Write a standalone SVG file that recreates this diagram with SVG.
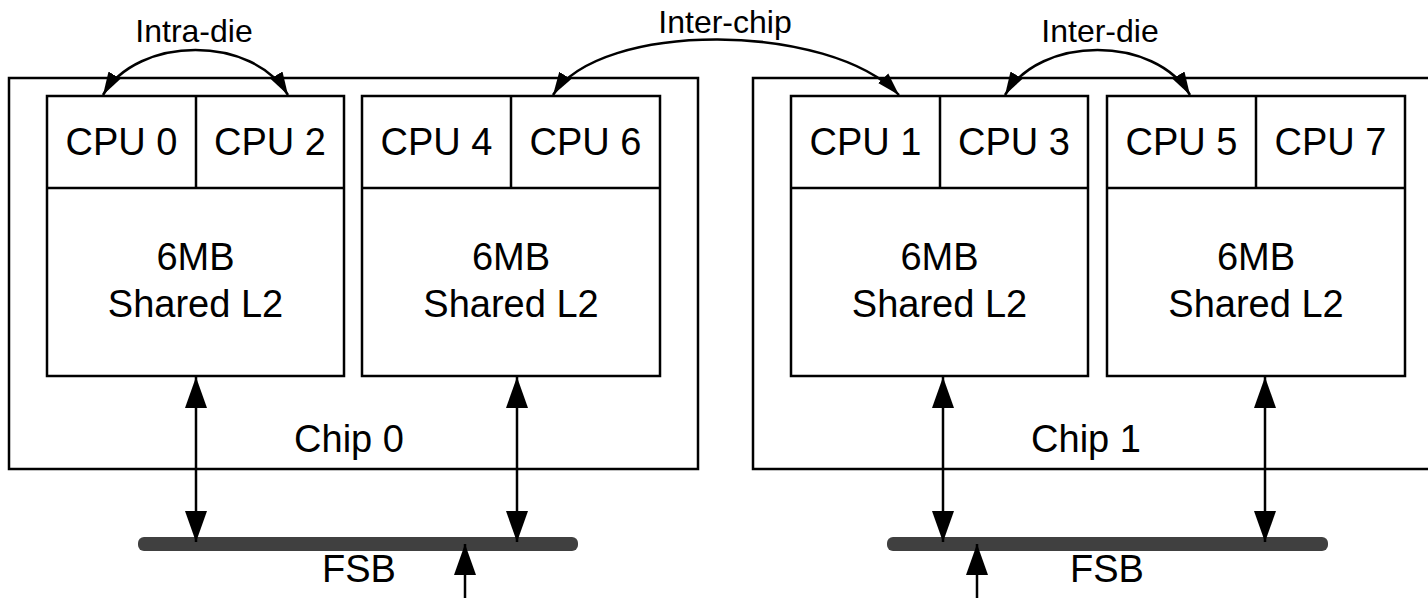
<svg xmlns="http://www.w3.org/2000/svg" width="1428" height="598" viewBox="0 0 1428 598">
<style>
.box{fill:#fff;stroke:#000;stroke-width:2.5}
.chip{fill:#fff;stroke:#000;stroke-width:2.5}
.t{font-family:"Liberation Sans",Arial,sans-serif;fill:#000;text-anchor:middle}
.cpu{font-size:38px}
.l2{font-size:38px}
.lbl{font-size:32px}
.ln{fill:none;stroke:#000;stroke-width:2.5}
.bus{fill:#404040}
</style>
<defs>
<marker id="big" markerUnits="userSpaceOnUse" markerWidth="32" markerHeight="24" refX="31" refY="11" orient="auto-start-reverse" viewBox="0 0 32 22">
<path d="M0,0 L31,11 L0,22 z" fill="#000"/>
</marker>
<marker id="small" markerUnits="userSpaceOnUse" markerWidth="24" markerHeight="16" refX="23" refY="7" orient="auto-start-reverse" viewBox="0 0 24 14">
<path d="M0,0 L23,7 L0,14 z" fill="#000"/>
</marker>
</defs>

<g id="chip0">
<rect class="chip" x="9" y="78" width="689" height="391"/>
<text class="t l2" x="349" y="452">Chip 0</text>
</g>
<g id="chip1">
<rect class="chip" x="753" y="78" width="700" height="391"/>
<text class="t l2" x="1086" y="452">Chip 1</text>
</g>

<g id="die0">
<rect class="box" x="47" y="96" width="297" height="280"/>
<line class="ln" x1="47" y1="188" x2="344" y2="188"/>
<line class="ln" x1="196" y1="96" x2="196" y2="188"/>
<text class="t cpu" x="121.5" y="155">CPU 0</text>
<text class="t cpu" x="270" y="155">CPU 2</text>
<text class="t l2" x="195.5" y="270">6MB</text>
<text class="t l2" x="195.5" y="317">Shared L2</text>
</g>
<g id="die1">
<rect class="box" x="362" y="96" width="298" height="280"/>
<line class="ln" x1="362" y1="188" x2="660" y2="188"/>
<line class="ln" x1="511" y1="96" x2="511" y2="188"/>
<text class="t cpu" x="436.5" y="155">CPU 4</text>
<text class="t cpu" x="585.5" y="155">CPU 6</text>
<text class="t l2" x="511" y="270">6MB</text>
<text class="t l2" x="511" y="317">Shared L2</text>
</g>
<g id="die2">
<rect class="box" x="791" y="96" width="297" height="280"/>
<line class="ln" x1="791" y1="188" x2="1088" y2="188"/>
<line class="ln" x1="940" y1="96" x2="940" y2="188"/>
<text class="t cpu" x="865.5" y="155">CPU 1</text>
<text class="t cpu" x="1014" y="155">CPU 3</text>
<text class="t l2" x="939.5" y="270">6MB</text>
<text class="t l2" x="939.5" y="317">Shared L2</text>
</g>
<g id="die3">
<rect class="box" x="1107" y="96" width="298" height="280"/>
<line class="ln" x1="1107" y1="188" x2="1405" y2="188"/>
<line class="ln" x1="1256" y1="96" x2="1256" y2="188"/>
<text class="t cpu" x="1181.5" y="155">CPU 5</text>
<text class="t cpu" x="1330.5" y="155">CPU 7</text>
<text class="t l2" x="1256" y="270">6MB</text>
<text class="t l2" x="1256" y="317">Shared L2</text>
</g>

<g id="fsb0">
<rect class="bus" x="138" y="537" width="440" height="14" rx="6"/>
<text class="t l2" x="359" y="582">FSB</text>
</g>
<g id="fsb1">
<rect class="bus" x="887" y="537" width="441" height="14" rx="6"/>
<text class="t l2" x="1107" y="582">FSB</text>
</g>

<g id="connectors">
<path class="ln" d="M103,95 C138,35 253,35 288,95" marker-start="url(#small)" marker-end="url(#small)"/>
<path class="ln" d="M553,95 C600,20 830,22 899,95" marker-start="url(#small)" marker-end="url(#small)"/>
<path class="ln" d="M1005,95 C1040,35 1155,35 1190,95" marker-start="url(#small)" marker-end="url(#small)"/>
<line class="ln" x1="196" y1="377" x2="196" y2="542" marker-start="url(#big)" marker-end="url(#big)"/>
<line class="ln" x1="517" y1="377" x2="517" y2="542" marker-start="url(#big)" marker-end="url(#big)"/>
<line class="ln" x1="943" y1="377" x2="943" y2="542" marker-start="url(#big)" marker-end="url(#big)"/>
<line class="ln" x1="1265" y1="377" x2="1265" y2="542" marker-start="url(#big)" marker-end="url(#big)"/>
<line class="ln" x1="465" y1="600" x2="465" y2="544" marker-end="url(#big)"/>
<line class="ln" x1="977" y1="600" x2="977" y2="544" marker-end="url(#big)"/>
</g>
<g id="labels">
<text class="t lbl" x="194" y="42">Intra-die</text>
<text class="t lbl" x="725" y="33">Inter-chip</text>
<text class="t lbl" x="1100" y="42">Inter-die</text>
</g>
</svg>
